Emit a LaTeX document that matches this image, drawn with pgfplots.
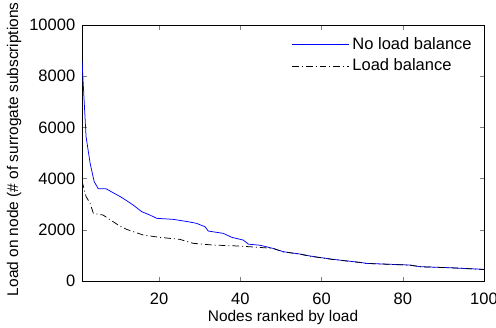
\documentclass[border=0pt]{standalone}
\usepackage{fontspec}
\setmainfont{Liberation Sans}
\usepackage{pgfplots}
\pgfplotsset{compat=1.18}
\begin{document}
\begin{tikzpicture}
\begin{axis}[
  name=ax,
  scale only axis, width=268pt, height=170.7pt,
  xmin=1, xmax=100, ymin=0, ymax=10000,
  xtick={20,40,60,80,100}, ytick={0,2000,4000,6000,8000,10000},
  tick align=inside, tick pos=both, major tick length=3pt,
  scaled y ticks=false,
  /pgf/number format/assume math mode=true,
  /pgf/number format/set thousands separator={},
  tick label style={font=\fontsize{11}{13}\selectfont},
  xticklabel style={yshift=-4.5pt},
  yticklabel style={xshift=-1pt},
  label style={font=\fontsize{10.3}{12}\selectfont},
  xlabel={Nodes ranked by load},
  ylabel={Load on node (\# of surrogate subscriptions},
  xlabel style={yshift=3pt},
  ylabel style={yshift=-1.5pt, xshift=2.5pt},
  legend style={draw=none, fill=none, at={(1,1)}, anchor=north east, xshift=-3pt, yshift=-4pt, font=\fontsize{11}{13}\selectfont, row sep=1pt},
  legend cell align=left,
  legend image code/.code={\draw[#1] (0pt,0pt) -- (38pt,0pt);},
]
\addplot[blue, line width=0.5pt] coordinates {
(1,8600) (2,5640) (3,4600) (4,3880) (5,3610) (7,3600) (9,3420) (10.5,3290) (12,3140) (13.6,2970) (15.7,2710) (17.7,2580) (19.4,2450) (23.5,2410) (27.2,2316) (29.2,2254) (31.3,2121) (32.1,1953) (35.8,1863) (37.9,1707) (40.7,1602) (42,1440) (44.8,1400) (48,1277) (50.6,1146) (54.7,1055) (57.2,977) (62.9,846) (69.5,729) (71.1,690) (81.8,625) (84.3,560) (91.6,521) (100,456)
};
\addlegendentry{No load balance}
\addplot[black, line width=0.5pt, dash pattern=on 4.5pt off 2pt on 0.7pt off 2pt] coordinates {
(1,3900) (2,3300) (3,3035) (3.8,2643) (6.2,2578) (9.9,2188) (12,2018) (16.1,1797) (20.2,1707) (25.1,1628) (28.4,1473) (33.3,1406) (39.9,1367) (48,1277) (50.6,1140) (54.7,1050) (57.2,970) (62.9,840) (69.5,725) (71.1,690) (81.8,620) (84.3,560) (91.6,520) (100,450)
};
\addlegendentry{Load balance}
\end{axis}
\pgfresetboundingbox
\path[use as bounding box] ([xshift=-54.67pt,yshift=-30.67pt]ax.south west) rectangle ([xshift=8pt,yshift=16.67pt]ax.north east);
\end{tikzpicture}
\end{document}
